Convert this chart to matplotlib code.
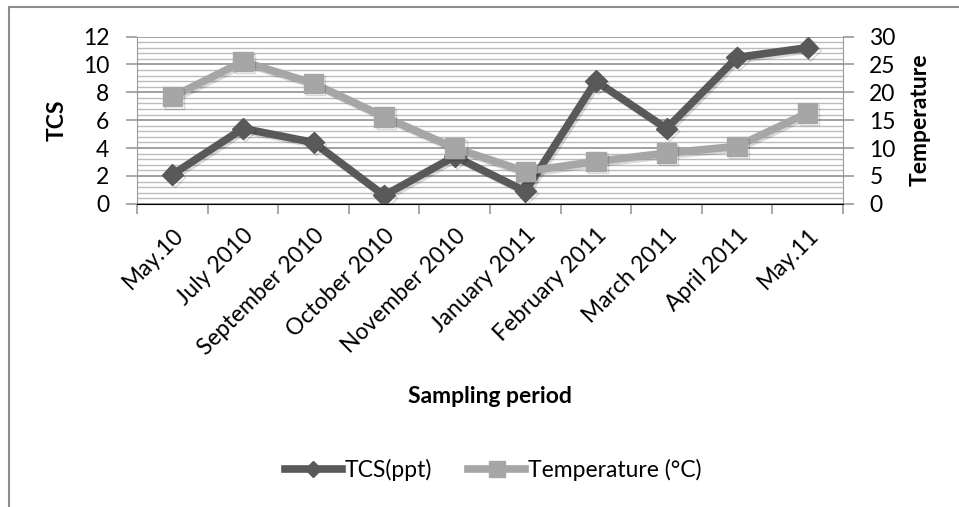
import matplotlib.pyplot as plt
import matplotlib.patheffects as pe
import numpy as np
from matplotlib.lines import Line2D
from matplotlib.ticker import MultipleLocator

plt.rcParams['font.family'] = ['Lato', 'DejaVu Sans']

months = ["May.10", "July 2010", "September 2010", "October 2010", "November 2010",
          "January 2011", "February 2011", "March 2011", "April 2011", "May.11"]
tcs_ppt = [2.1, 5.4, 4.4, 0.6, 3.4, 0.9, 8.8, 5.4, 10.5, 11.2]
temperature_c = [19.2, 25.5, 21.6, 15.6, 10.0, 5.8, 7.6, 9.1, 10.3, 16.3]

dark = "#595959"
light = "#a6a6a6"
grid_major = "#999999"
grid_minor = "#bcbcbc"
fs = 16.5

fig = plt.figure(figsize=(9.59, 5.07), dpi=100)
ax1 = fig.add_axes([0.143, 0.598, 0.736, 0.330])
ax2 = ax1.twinx()

x = np.arange(len(months))
shadow = [pe.SimpleLineShadow(offset=(1.5, -1.5), alpha=0.15), pe.Normal()]

# TCS on the left axis, temperature on the secondary axis (drawn on top)
ax1.plot(x, tcs_ppt, color=dark, lw=5.5, marker="D", ms=11, mec=dark, zorder=3,
         path_effects=shadow)
ax2.plot(x, temperature_c, color=light, lw=5.5, marker="s", ms=14, mec=light, zorder=3,
         path_effects=shadow)

ax1.set_xlim(-0.5, len(months) - 0.5)
ax1.set_ylim(0, 12)
ax2.set_ylim(0, 30)
ax1.yaxis.set_major_locator(MultipleLocator(2))
ax1.yaxis.set_minor_locator(MultipleLocator(0.4))
ax2.yaxis.set_major_locator(MultipleLocator(5))

ax1.grid(axis="y", which="major", color=grid_major, lw=1.3, zorder=0)
ax1.grid(axis="y", which="minor", color=grid_minor, lw=1.0, zorder=0)
ax1.set_axisbelow(True)

# category ticks sit between the months, labels under each month
ax1.set_xticks(np.arange(-0.5, len(months)), minor=False)
ax1.set_xticklabels([])
ax1.set_xticks(x, minor=True)
ax1.set_xticklabels(months, minor=True, rotation=45, ha="right", va="top",
                    rotation_mode="anchor", fontsize=fs)
ax1.tick_params(axis="x", which="major", length=7, width=1.2, color=grid_major, direction="out")
ax1.tick_params(axis="x", which="minor", length=0, pad=15)
ax1.tick_params(axis="y", which="major", length=8, width=1.2, color=grid_major,
                labelsize=fs, pad=12)
ax1.tick_params(axis="y", which="minor", length=0)
ax2.tick_params(axis="y", length=8, width=1.2, color=grid_major, labelsize=fs, pad=11)

for a in (ax1, ax2):
    for side in ("top", "right", "left"):
        a.spines[side].set_visible(False)
ax1.spines["left"].set_visible(True)
ax1.spines["left"].set_color(grid_major)
ax1.spines["bottom"].set_color(grid_major)
ax1.spines["bottom"].set_linewidth(1.3)
ax2.spines["right"].set_visible(True)
ax2.spines["right"].set_color(grid_major)

ax1.set_ylabel("TCS", fontsize=fs, fontweight="bold", va="center")
ax1.yaxis.set_label_coords(-0.113, 0.5)
ax2.set_ylabel("Temperature", fontsize=fs, fontweight="bold", va="center")
ax2.yaxis.set_label_coords(1.109, 0.5)
ax1.set_xlabel("Sampling period", fontsize=fs, fontweight="bold", va="center")
ax1.xaxis.set_label_coords(0.5, -1.154)

handles = [
    Line2D([], [], color=dark, lw=5.5, marker="D", ms=8, mec=dark),
    Line2D([], [], color=light, lw=5.5, marker="s", ms=11, mec=light),
]
fig.legend(handles, ["TCS(ppt)", "Temperature (°C)"], loc="center",
           bbox_to_anchor=(0.514, 0.073), ncol=2, frameon=False, fontsize=fs,
           handlelength=2.5, handletextpad=0.1, columnspacing=1.6)

# chart frame (only top and left edges are visible)
fig.add_artist(Line2D([9 / 959, 1], [1 - 7 / 507, 1 - 7 / 507], color="#8c8c8c", lw=1.5,
                      transform=fig.transFigure))
fig.add_artist(Line2D([9 / 959, 9 / 959], [0, 1 - 7 / 507], color="#8c8c8c", lw=1.5,
                      transform=fig.transFigure))

fig.savefig("out.png", dpi=100)
